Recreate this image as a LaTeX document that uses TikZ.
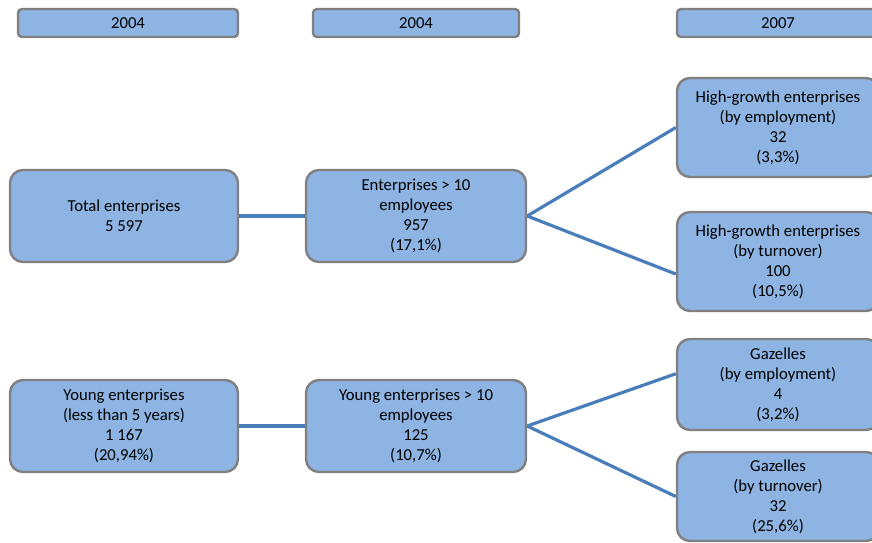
\documentclass[tikz,border=0pt]{standalone}
\usepackage{fontspec}
\setmainfont{Carlito}
\usetikzlibrary{backgrounds}
\definecolor{boxblue}{RGB}{141,180,226}
\definecolor{boxgray}{RGB}{128,128,128}
\definecolor{linkblue}{RGB}{74,126,187}
\tikzset{
  base/.style={draw=boxgray, line width=2.4pt, fill=boxblue, align=center, inner sep=0pt,
    font=\fontsize{16.7}{20}\selectfont},
  hdr/.style={base, rounded corners=4pt, minimum height=28pt},
  bigbox/.style={base, rounded corners=13pt},
  link/.style={draw=linkblue, line width=3.2pt}
}
\begin{document}
\begin{tikzpicture}[x=1pt,y=-1pt]
\useasboundingbox (0,0) rectangle (872,542);
\node[hdr, minimum width=220pt] (h1) at (128,23) {2004};
\node[hdr, minimum width=206pt] (h2) at (416,23) {2004};
\node[hdr, minimum width=202pt] (h3) at (778,23) {2007};
\node[bigbox, minimum width=228pt, minimum height=92pt] (tot) at (124,216) {Total enterprises\\5 597};
\node[bigbox, minimum width=220pt, minimum height=92pt] (ent) at (416,216) {Enterprises > 10\\employees\\957\\(17,1\%)};
\node[bigbox, minimum width=202pt, minimum height=99pt] (hge) at (778,127.5) {High-growth enterprises\\(by employment)\\32\\(3,3\%)};
\node[bigbox, minimum width=202pt, minimum height=99pt] (hgt) at (778,261.5) {High-growth enterprises\\(by turnover)\\100\\(10,5\%)};
\node[bigbox, minimum width=228pt, minimum height=92pt] (young) at (124,426) {Young enterprises\\(less than 5 years)\\1 167\\(20,94\%)};
\node[bigbox, minimum width=220pt, minimum height=92pt] (yent) at (416,426) {Young enterprises > 10\\employees\\125\\(10,7\%)};
\node[bigbox, minimum width=202pt, minimum height=91pt] (gze) at (778,384.5) {Gazelles\\(by employment)\\4\\(3,2\%)};
\node[bigbox, minimum width=202pt, minimum height=89pt] (gzt) at (778,496.5) {Gazelles\\(by turnover)\\32\\(25,6\%)};
\begin{scope}[on background layer]
\draw[link] (tot.east) -- (ent.west);
\draw[link] (ent.east) -- (hge.west);
\draw[link] (ent.east) -- (hgt.187.6);
\draw[link] (young.east) -- (yent.west);
\draw[link] (yent.east) -- (gze.174.6);
\draw[link] (yent.east) -- (gzt.west);
\end{scope}
\end{tikzpicture}
\end{document}
